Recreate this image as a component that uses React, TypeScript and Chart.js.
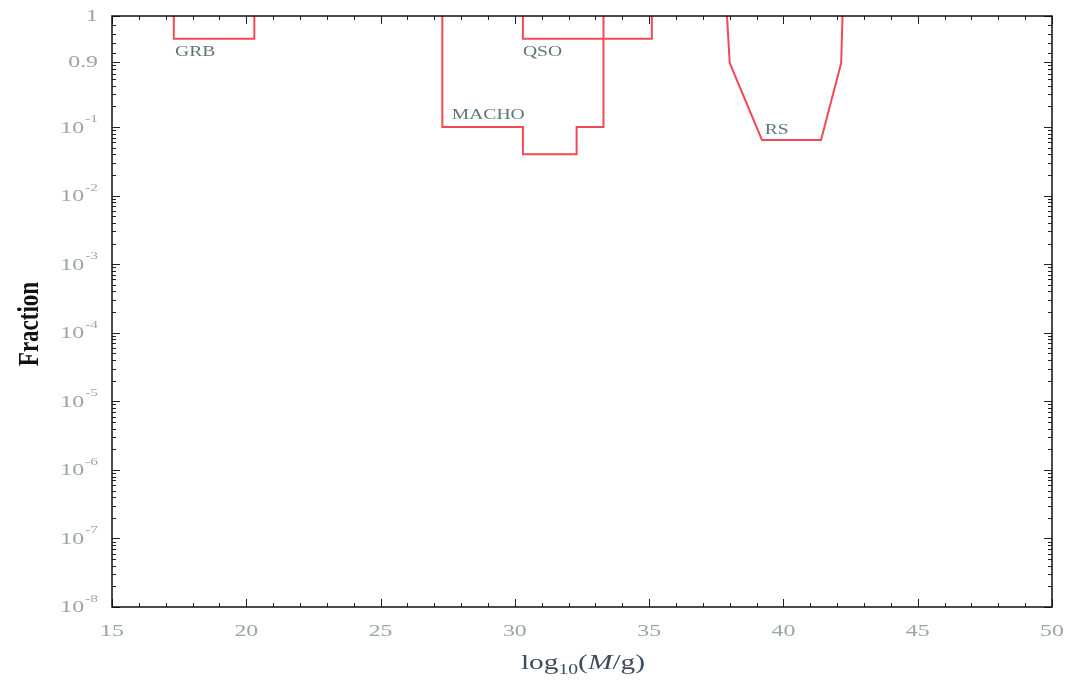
import { useEffect, useRef } from 'react';
import { Chart, registerables } from 'chart.js';

Chart.register(...registerables);

// Mass ranges (log10 M/g) and the fraction limits for each constraint
const grbMass = [17.3, 17.3, 20.3, 20.3];
const grbFraction = [1, 0.95, 0.95, 1];

const machoMass = [27.3, 27.3, 30.3, 30.3, 32.3, 32.3, 33.3, 33.3];
const machoFraction = [1, 0.1, 0.1, 0.04, 0.04, 0.1, 0.1, 1];

const qsoMass = [30.3, 30.3, 35.1, 35.1];
const qsoFraction = [1, 0.95, 0.95, 1];

const rsMass = [37.9, 38.0, 39.2, 41.4, 42.15, 42.2];
const rsFraction = [1, 0.86, 0.065, 0.065, 0.86, 1];

// Curve labels
const labelNames = ['GRB', 'QSO', 'MACHO', 'RS'];
const labelMass = [17.35, 30.3, 27.65, 39.3];
const labelFraction = [0.921, 0.921, 0.15, 0.091];

// Axis ticks
const xTickValues = [15, 20, 25, 30, 35, 40, 45, 50];
const yTickFractions = [1e-8, 1e-7, 1e-6, 1e-5, 1e-4, 1e-3, 1e-2, 1e-1, 0.9, 1];
const yTickBase = ['10', '10', '10', '10', '10', '10', '10', '10', '0.9', '1'];
const yTickExp = ['-8', '-7', '-6', '-5', '-4', '-3', '-2', '-1', '', ''];

// Vertical axis: logarithmic up to 0.9, then the 0.9..1 band is stretched linearly
const LOG_09 = Math.log10(0.9);
const TOP_POS = 0.62;
const toAxis = (f: number) =>
  f <= 0.9 ? Math.log10(f) : LOG_09 + ((f - 0.9) / 0.1) * (TOP_POS - LOG_09);

const LINE_COLOR = 'rgb(240, 74, 86)';
const TICK_TEXT = '#9aa6a6';
const SERIF = '"Liberation Serif", "DejaVu Serif", serif';
// glyphs are drawn wide (horizontal stretch)
const STRETCH = 1.4;

const series = (xs: number[], fs: number[]) => xs.map((x, i) => ({ x, y: toAxis(fs[i]) }));

function minorYFractions(): number[] {
  const out: number[] = [];
  for (let d = -8; d <= -1; d++) {
    for (let k = 2; k <= 9; k++) {
      const f = k * Math.pow(10, d);
      if (f < 0.9 - 1e-9) out.push(f);
    }
  }
  for (let f = 0.92; f < 0.995; f += 0.02) out.push(f);
  return out;
}

function wideText(
  ctx: CanvasRenderingContext2D,
  text: string,
  x: number,
  y: number,
  font: string,
  align: CanvasTextAlign,
  baseline: CanvasTextBaseline = 'middle',
) {
  ctx.save();
  ctx.translate(x, y);
  ctx.scale(STRETCH, 1);
  ctx.font = font;
  ctx.textAlign = align;
  ctx.textBaseline = baseline;
  ctx.fillText(text, 0, 0);
  ctx.restore();
}

function wideWidth(ctx: CanvasRenderingContext2D, text: string, font: string) {
  ctx.font = font;
  return ctx.measureText(text).width * STRETCH;
}

const framePlugin = {
  id: 'frameTicks',
  afterDraw(chart: any) {
    const { ctx, chartArea: a, scales } = chart;
    const xs = scales.x;
    const ys = scales.y;
    ctx.save();
    ctx.strokeStyle = '#222';
    ctx.lineWidth = 1;
    // x ticks (bottom and top, pointing inward)
    for (let v = 15; v <= 50; v++) {
      const px = Math.round(xs.getPixelForValue(v)) + 0.5;
      const len = v % 5 === 0 ? 8 : 4;
      ctx.beginPath();
      ctx.moveTo(px, a.bottom);
      ctx.lineTo(px, a.bottom - len);
      ctx.moveTo(px, a.top);
      ctx.lineTo(px, a.top + len);
      ctx.stroke();
    }
    // y ticks (left and right, pointing inward)
    const drawY = (f: number, len: number) => {
      const py = Math.round(ys.getPixelForValue(toAxis(f))) + 0.5;
      ctx.beginPath();
      ctx.moveTo(a.left, py);
      ctx.lineTo(a.left + len, py);
      ctx.moveTo(a.right, py);
      ctx.lineTo(a.right - len, py);
      ctx.stroke();
    };
    yTickFractions.forEach((f) => drawY(f, 8));
    minorYFractions().forEach((f) => drawY(f, 4));
    // frame
    ctx.strokeStyle = '#111';
    ctx.lineWidth = 1.5;
    ctx.strokeRect(a.left, a.top, a.right - a.left, a.bottom - a.top);

    ctx.fillStyle = TICK_TEXT;
    // x tick labels
    xTickValues.forEach((v) => {
      wideText(ctx, String(v), xs.getPixelForValue(v), a.bottom + 25, `17px ${SERIF}`, 'center');
    });

    // y tick labels with superscript exponents
    const right = a.left - 14;
    yTickFractions.forEach((f, i) => {
      const py = ys.getPixelForValue(toAxis(f));
      const expFont = `11px ${SERIF}`;
      const ew = yTickExp[i] ? wideWidth(ctx, yTickExp[i], expFont) + 1 : 0;
      if (yTickExp[i]) wideText(ctx, yTickExp[i], right, py - 8, expFont, 'right');
      wideText(ctx, yTickBase[i], right - ew, py + 1, `17px ${SERIF}`, 'right');
    });

    // vertical axis title
    ctx.save();
    ctx.translate(30, 324);
    ctx.scale(1.3, 1);
    ctx.rotate(-Math.PI / 2);
    ctx.fillStyle = '#111';
    ctx.font = `bold 23px ${SERIF}`;
    ctx.textAlign = 'center';
    ctx.textBaseline = 'middle';
    ctx.fillText('Fraction', 0, 0);
    ctx.restore();

    // horizontal axis title: log10(M/g)
    const parts = [
      { t: 'log', font: `21px ${SERIF}`, dy: 0 },
      { t: '10', font: `14px ${SERIF}`, dy: 5 },
      { t: '(', font: `21px ${SERIF}`, dy: 0 },
      { t: 'M', font: `italic 21px ${SERIF}`, dy: 0 },
      { t: '/', font: `21px ${SERIF}`, dy: 0 },
      { t: 'g', font: `21px ${SERIF}`, dy: 0 },
      { t: ')', font: `21px ${SERIF}`, dy: 0 },
    ];
    let total = 0;
    parts.forEach((p) => {
      total += wideWidth(ctx, p.t, p.font);
    });
    let cx = 583 - total / 2;
    ctx.fillStyle = '#3d4c5c';
    parts.forEach((p) => {
      wideText(ctx, p.t, cx, 669 + p.dy, p.font, 'left', 'alphabetic');
      cx += wideWidth(ctx, p.t, p.font);
    });
    ctx.restore();
  },
  afterDatasetsDraw(chart: any) {
    const { ctx, scales } = chart;
    ctx.save();
    ctx.fillStyle = '#5d7676';
    labelNames.forEach((name, i) => {
      const px = scales.x.getPixelForValue(labelMass[i]);
      const py = scales.y.getPixelForValue(toAxis(labelFraction[i]));
      wideText(ctx, name, px, py, `14px ${SERIF}`, 'left');
    });
    ctx.restore();
  },
};

export default function App() {
  const canvasRef = useRef<HTMLCanvasElement | null>(null);

  useEffect(() => {
    document.body.style.margin = '0';
    const canvas = canvasRef.current;
    if (!canvas) return;
    const lineStyle = {
      borderColor: LINE_COLOR,
      backgroundColor: LINE_COLOR,
      borderWidth: 2,
      pointRadius: 0,
      showLine: true,
      fill: false,
      tension: 0,
    };
    const chart = new Chart(canvas, {
      type: 'scatter',
      data: {
        datasets: [
          { label: 'GRB', data: series(grbMass, grbFraction), ...lineStyle },
          { label: 'MACHO', data: series(machoMass, machoFraction), ...lineStyle },
          { label: 'QSO', data: series(qsoMass, qsoFraction), ...lineStyle },
          { label: 'RS', data: series(rsMass, rsFraction), ...lineStyle },
        ],
      },
      options: {
        animation: false,
        responsive: false,
        devicePixelRatio: 1,
        layout: { padding: { left: 0, top: 16, right: 26, bottom: 0 } },
        plugins: {
          legend: { display: false },
          tooltip: { enabled: false },
        },
        scales: {
          x: {
            type: 'linear',
            min: 15,
            max: 50,
            grid: { display: false },
            border: { display: false },
            afterBuildTicks: (scale: any) => {
              scale.ticks = xTickValues.map((v) => ({ value: v }));
            },
            ticks: { display: false },
            afterFit: (scale: any) => {
              scale.height = 73;
            },
          },
          y: {
            type: 'linear',
            min: -8,
            max: TOP_POS,
            grid: { display: false },
            border: { display: false },
            afterBuildTicks: (scale: any) => {
              scale.ticks = yTickFractions.map((f) => ({ value: toAxis(f) }));
            },
            ticks: { display: false },
            afterFit: (scale: any) => {
              scale.width = 112;
            },
          },
        },
      },
      plugins: [framePlugin],
    });
    return () => chart.destroy();
  }, []);

  return (
    <div style={{ width: 1078, height: 680, background: '#fff' }}>
      <canvas ref={canvasRef} width={1078} height={680} />
    </div>
  );
}
